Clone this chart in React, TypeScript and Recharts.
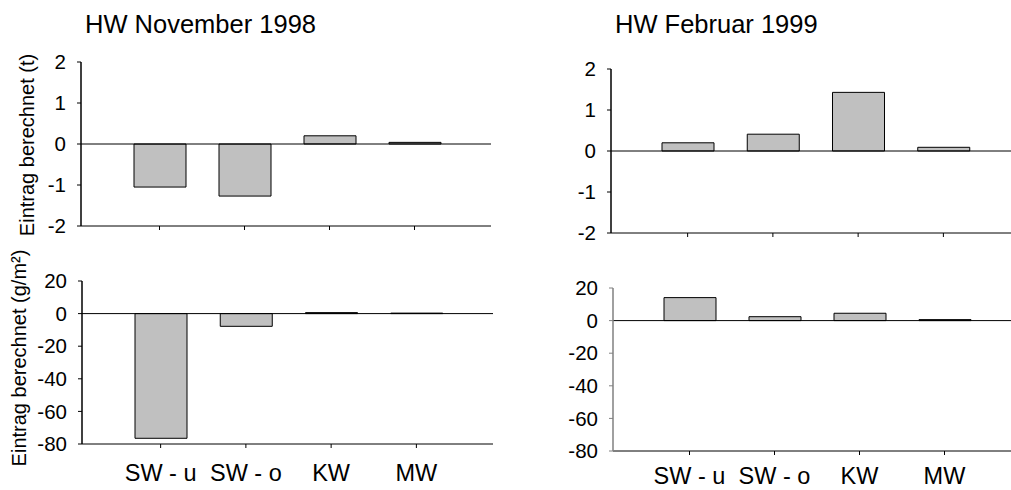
import React from 'react';
import { BarChart, Bar, XAxis, YAxis, ReferenceLine } from 'recharts';

const categories = ['SW - u', 'SW - o', 'KW', 'MW'];
const nov98Tonnes = [-1.05, -1.27, 0.2, 0.04];
const nov98Area = [-76.5, -7.8, 0.6, 0.3];
const feb99Tonnes = [0.2, 0.41, 1.43, 0.09];
const feb99Area = [14.1, 2.4, 4.5, 0.6];
const tonneTicks = [-2, -1, 0, 1, 2];
const areaTicks = [-80, -60, -40, -20, 0, 20];
const titles = ['HW November 1998', 'HW Februar 1999'];
const yLabels = ['Eintrag berechnet (t)', 'Eintrag berechnet (g/m²)'];

const FONT = '"Liberation Sans", Arial, Helvetica, sans-serif';
const GRAY = '#808080';
const DARK = '#000000';

type PanelProps = {
  plotLeft: number;
  plotTop: number;
  plotW: number;
  plotH: number;
  originX: number;
  values: number[];
  ticks: number[];
  padL: number;
  padR: number;
  showCats: boolean;
  topColor: string;
  rightColor: string;
  leftColor: string;
  yLabel?: string;
  yLabelX?: number;
  yLabelY?: number;
  catDy: number;
};

function Panel(p: PanelProps) {
  const topM = 40;
  const xAxisH = 60;
  const yAxisW = p.plotLeft - p.originX;
  const data = categories.map((c, i) => ({ cat: c, value: p.values[i] }));
  const domain: [number, number] = [p.ticks[0], p.ticks[p.ticks.length - 1]];
  const width = yAxisW + p.plotW;
  const height = topM + p.plotH + xAxisH;
  const chartTop = p.plotTop - topM;

  const renderCat = (props: any) => {
    const { x, y, payload } = props;
    if (!p.showCats) return <g />;
    return (
      <text x={x} y={y + p.catDy} textAnchor="middle" fontSize={23.5} fontFamily={FONT} fill="#000">
        {payload.value}
      </text>
    );
  };

  const renderYLabel = () => {
    if (!p.yLabel) return null;
    const lx = (p.yLabelX as number) - p.originX;
    const ly = (p.yLabelY as number) - chartTop;
    return (
      <text
        x={lx}
        y={ly}
        transform={`rotate(-90 ${lx} ${ly})`}
        textAnchor="middle"
        fontSize={20}
        fontFamily={FONT}
        fill="#000"
      >
        {p.yLabel}
      </text>
    );
  };

  return (
    <div style={{ position: 'absolute', left: p.originX, top: chartTop, width, height }}>
      <BarChart
        width={width}
        height={height}
        data={data}
        margin={{ top: topM, right: 0, bottom: 0, left: 0 }}
        barSize={52}
        style={{ overflow: 'visible' }}
      >
        <XAxis
          xAxisId="bottom"
          dataKey="cat"
          orientation="bottom"
          height={xAxisH}
          padding={{ left: p.padL, right: p.padR }}
          axisLine={{ stroke: DARK, strokeWidth: 1 }}
          tickLine={{ stroke: DARK, strokeWidth: 1 }}
          tickSize={4}
          tickMargin={0}
          tick={renderCat}
          interval={0}
        />
        <XAxis
          xAxisId="top"
          dataKey="cat"
          orientation="top"
          height={0}
          padding={{ left: p.padL, right: p.padR }}
          axisLine={{ stroke: p.topColor, strokeWidth: 1.5 }}
          tickLine={false}
          tick={false}
        />
        <YAxis
          yAxisId="left"
          type="number"
          domain={domain}
          ticks={p.ticks}
          interval={0}
          width={yAxisW}
          axisLine={{ stroke: p.leftColor, strokeWidth: 1.5 }}
          tickLine={{ stroke: p.leftColor, strokeWidth: 1 }}
          tickSize={4}
          tickMargin={11}
          tick={{ fontSize: 20.5, fontFamily: FONT, fill: '#000' }}
          allowDataOverflow
          label={{ content: renderYLabel }}
        />
        <YAxis
          yAxisId="right"
          orientation="right"
          type="number"
          domain={domain}
          width={0}
          axisLine={{ stroke: p.rightColor, strokeWidth: 2 }}
          tickLine={false}
          tick={false}
        />
        <Bar
          xAxisId="bottom"
          yAxisId="left"
          dataKey="value"
          fill="#c0c0c0"
          stroke="#000"
          strokeWidth={1}
          isAnimationActive={false}
        />
        <ReferenceLine xAxisId="bottom" yAxisId="left" y={0} stroke="#000" strokeWidth={1} />
      </BarChart>
    </div>
  );
}

export default function App() {
  return (
    <div
      style={{
        position: 'absolute',
        left: 0,
        top: 0,
        width: 1011,
        height: 490,
        overflow: 'hidden',
        background: '#fff',
        fontFamily: FONT,
      }}
    >
      <div style={{ position: 'absolute', left: 85, top: 12, fontSize: 25.5, lineHeight: '25px', whiteSpace: 'nowrap' }}>
        {titles[0]}
      </div>
      <div style={{ position: 'absolute', left: 615, top: 12, fontSize: 25.5, lineHeight: '25px', whiteSpace: 'nowrap' }}>
        {titles[1]}
      </div>
      <Panel
        plotLeft={81}
        plotTop={62}
        plotW={410}
        plotH={164}
        originX={0}
        values={nov98Tonnes}
        ticks={tonneTicks}
        padL={36}
        padR={34}
        showCats={false}
        topColor={DARK}
        rightColor={GRAY}
        leftColor={DARK}
        yLabel={yLabels[0]}
        yLabelX={34}
        yLabelY={145}
        catDy={34}
      />
      <Panel
        plotLeft={82}
        plotTop={281}
        plotW={411}
        plotH={163}
        originX={0}
        values={nov98Area}
        ticks={areaTicks}
        padL={36}
        padR={34}
        showCats={true}
        topColor={GRAY}
        rightColor={GRAY}
        leftColor={DARK}
        yLabel={yLabels[1]}
        yLabelX={26}
        yLabelY={358}
        catDy={33}
      />
      <Panel
        plotLeft={613}
        plotTop={288}
        plotW={411}
        plotH={163}
        originX={500}
        values={feb99Area}
        ticks={areaTicks}
        padL={34}
        padR={37}
        showCats={true}
        topColor={GRAY}
        rightColor={GRAY}
        leftColor={GRAY}
        catDy={29}
      />
      <Panel
        plotLeft={611}
        plotTop={69}
        plotW={411}
        plotH={164}
        originX={500}
        values={feb99Tonnes}
        ticks={tonneTicks}
        padL={34}
        padR={36}
        showCats={false}
        topColor={DARK}
        rightColor={GRAY}
        leftColor={DARK}
        catDy={34}
      />
    </div>
  );
}
